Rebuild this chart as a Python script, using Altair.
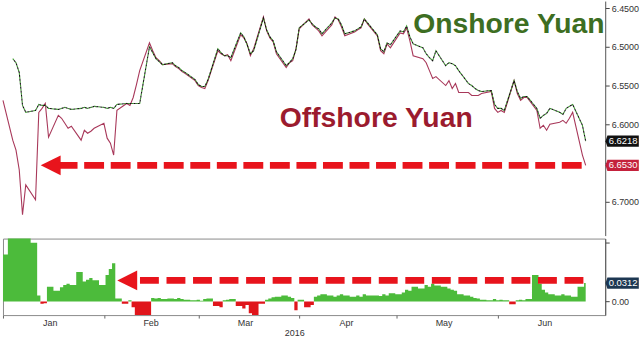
import altair as alt
import pandas as pd

# ---------------- data ----------------
dates = pd.bdate_range("2016-01-01", "2016-06-28")

offshore = [
    6.5692,
    6.6205, 6.6333, 6.6590, 6.7167, 6.6782,
    6.6974, 6.5846, 6.5795, 6.5731, 6.6167,
    6.5885, 6.5923, 6.5987, 6.6051, 6.6026,
    6.6205, 6.6077, 6.6115, 6.6090, 6.6051,
    6.5987, 6.6179, 6.6244, 6.6397, 6.5821,
    6.5731, 6.5756, 6.5654, 6.5487, 6.5308,
    6.4949, 6.5051, 6.5141, 6.5179, 6.5231,
    6.5218, 6.5256, 6.5282, 6.5321, 6.5346,
    6.5436, 6.5500, 6.5526, 6.5538, 6.5436,
    6.5051, 6.5090, 6.5115, 6.5103, 6.5179,
    6.4846, 6.4885, 6.4962, 6.5115, 6.5026,
    6.4615, 6.4795, 6.4885, 6.4936, 6.5090,
    6.5269, 6.5205, 6.5179, 6.5026, 6.4769,
    6.4641, 6.4718, 6.4756, 6.4795, 6.4859,
    6.4718, 6.4615, 6.4654, 6.4744, 6.4859,
    6.4808, 6.4782, 6.4756, 6.4641, 6.4705,
    6.4859, 6.5051, 6.5090, 6.4962, 6.5013,
    6.4821, 6.4833, 6.4756, 6.4923, 6.5115,
    6.5154, 6.5205, 6.5308, 6.5410, 6.5385,
    6.5500, 6.5436, 6.5538, 6.5474, 6.5590,
    6.5590, 6.5628, 6.5628, 6.5628, 6.5603,
    6.5577, 6.5795, 6.5846, 6.5821, 6.5846,
    6.5436, 6.5603, 6.5692, 6.5654, 6.5654,
    6.5821, 6.6051, 6.6013, 6.6077, 6.6000,
    6.5974, 6.5949, 6.5987, 6.5923, 6.5846,
    6.6397, 6.6530,
]

onshore = [
    None,
    6.5154, 6.5205, 6.5333, 6.5756, 6.5846,
    6.5821, 6.5744, 6.5756, 6.5756, 6.5795,
    6.5808, 6.5795, 6.5782, 6.5795, 6.5808,
    6.5795, 6.5782, 6.5795, 6.5782, 6.5769,
    6.5782, 6.5795, 6.5782, 6.5795, 6.5744,
    6.5731, 6.5731, 6.5731, 6.5731, 6.5731,
    6.5000, 6.5077, 6.5154, 6.5192, 6.5231,
    6.5205, 6.5244, 6.5269, 6.5308, 6.5333,
    6.5423, 6.5487, 6.5513, 6.5513, 6.5423,
    6.5026, 6.5077, 6.5115, 6.5115, 6.5141,
    6.4821, 6.4872, 6.4974, 6.5090, 6.5051,
    6.4628, 6.4782, 6.4872, 6.4923, 6.5064,
    6.5244, 6.5205, 6.5154, 6.5038, 6.4756,
    6.4654, 6.4705, 6.4744, 6.4769, 6.4833,
    6.4692, 6.4628, 6.4641, 6.4718, 6.4833,
    6.4795, 6.4769, 6.4744, 6.4641, 6.4692,
    6.4846, 6.5026, 6.5064, 6.4949, 6.4974,
    6.4795, 6.4808, 6.4731, 6.4872, 6.4962,
    6.5013, 6.5090, 6.5141, 6.5179, 6.5051,
    6.5244, 6.5205, 6.5218, 6.5244, 6.5308,
    6.5474, 6.5500, 6.5538, 6.5564, 6.5577,
    6.5564, 6.5744, 6.5795, 6.5795, 6.5821,
    6.5436, 6.5577, 6.5667, 6.5641, 6.5641,
    6.5795, 6.5923, 6.5885, 6.5859, 6.5795,
    6.5846, 6.5872, 6.5795, 6.5769, 6.5744,
    6.6013, 6.6218,
]

spread = [
    0.080,
    0.120, 0.130, 0.140, 0.140, 0.120,
    0.100, 0.010, -0.004, -0.003, 0.025,
    0.018, 0.024, 0.028, 0.030, 0.028,
    0.050, 0.034, 0.037, 0.040, 0.036,
    0.028, 0.045, 0.055, 0.065, 0.005,
    -0.004, 0.002, -0.010, -0.030, -0.040,
    -0.030, 0.006, 0.005, 0.006, 0.004,
    0.005, 0.004, 0.006, 0.004, 0.003,
    0.002, 0.003, 0.001, 0.004, 0.005,
    -0.008, -0.010, 0.002, 0.003, 0.004,
    -0.008, -0.012, -0.006, -0.020, -0.025,
    -0.004, 0.003, 0.005, 0.007, 0.008,
    0.010, 0.008, 0.006, -0.015, 0.003,
    -0.010, -0.006, 0.008, 0.010, 0.012,
    0.010, 0.008, 0.010, 0.012, 0.010,
    0.008, 0.010, 0.008, 0.012, 0.010,
    0.010, 0.009, 0.012, 0.010, 0.014,
    0.012, 0.015, 0.020, 0.018, 0.025,
    0.022, 0.028, 0.025, 0.030, 0.027,
    0.025, 0.022, 0.020, 0.018, 0.012,
    0.010, 0.008, 0.006, 0.005, 0.003,
    0.002, 0.004, 0.002, 0.003, 0.002,
    -0.005, 0.002, 0.003, 0.002, 0.004,
    0.045, 0.030, 0.020, 0.015, 0.012,
    0.010, 0.012, 0.010, 0.010, 0.008,
    0.025, 0.0312,
]

assert len(dates) == len(offshore) == len(onshore) == len(spread)

# last-value badges
top_badge_values = [6.6218, 6.6530]
top_badge_labels = ["6.6218", "6.6530"]
top_badge_colors = ["#111111", "#c4213c"]
bottom_badge_values = [0.0312]
bottom_badge_labels = ["0.0312"]

# annotations
label_texts = ["Onshore Yuan", "Offshore Yuan"]
label_dates = ["2016-05-06T00:00:00", "2016-03-26T00:00:00"]
label_values = [6.4821, 6.6038]
label_colors = ["#3d6e22", "#9b1b2e"]

top_arrow_level = [6.6530]
top_arrow_start = ["2016-01-17T19:00:00"]
top_arrow_end = ["2016-06-28T00:00:00"]
top_arrow_head = ["2016-01-15T15:30:00"]

bottom_arrow_level = [0.0358]
bottom_arrow_start = ["2016-02-12T02:00:00"]
bottom_arrow_end = ["2016-06-28T00:00:00"]
bottom_arrow_head = ["2016-02-08T04:00:00"]

month_ticks = [alt.DateTime(year=2016, month=m, date=1) for m in range(1, 7)]
top_ticks = [6.45, 6.475, 6.50, 6.525, 6.55, 6.575, 6.60, 6.625, 6.65, 6.675, 6.70, 6.725]
bottom_ticks = [-0.025, 0.0, 0.025, 0.05, 0.075, 0.10]

# ---------------- frames ----------------
df = pd.DataFrame({"date": dates, "offshore": offshore, "onshore": onshore, "spread": spread})
df_top_badges = pd.DataFrame({"v": top_badge_values, "t": top_badge_labels, "c": top_badge_colors})
df_bot_badges = pd.DataFrame({"v": bottom_badge_values, "t": bottom_badge_labels})
df_labels = pd.DataFrame({"date": label_dates, "v": label_values, "t": label_texts, "c": label_colors})
df_top_arrow = pd.DataFrame({"s": top_arrow_start, "e": top_arrow_end, "h": top_arrow_head, "v": top_arrow_level})
df_bot_arrow = pd.DataFrame({"s": bottom_arrow_start, "e": bottom_arrow_end, "h": bottom_arrow_head, "v": bottom_arrow_level})

W = 606
x_scale = alt.Scale(domain=[alt.DateTime(year=2016, month=1, date=1),
                            alt.DateTime(year=2016, month=7, date=4)])
y_top_scale = alt.Scale(domain=[6.441, 6.7436], reverse=True, nice=False, zero=False)
y_bot_scale = alt.Scale(domain=[-0.0233, 0.107], nice=False, zero=False)

RED = "#e8141c"
HEAD = "M1,-1L1,1L-1,0Z"
BADGE = "M-1.12,0L-1,-0.36L1,-0.36L1,0.36L-1,0.36Z"

top_axis = alt.Axis(orient="right", values=top_ticks, title=None, grid=False,
                    labelExpr="(round(datum.value*1000) % 50 == 0 && round(datum.value*1000) != 6650) ? format(datum.value, '.4f') : ''",
                    labelOverlap=False, labelFontSize=9, labelColor="#333333",
                    tickSize=4, tickColor="#444444", domainColor="#555555", labelPadding=2)

base_top = alt.Chart(df)
off_line = base_top.mark_line(color="#a8385a", strokeWidth=1.1).encode(
    x=alt.X("date:T", scale=x_scale, axis=None),
    y=alt.Y("offshore:Q", scale=y_top_scale, axis=top_axis),
)
on_green = base_top.mark_line(color="#3b9a2c", strokeWidth=1.1, strokeDash=[2, 2]).encode(
    x="date:T", y="onshore:Q")
on_black = base_top.mark_line(color="#111111", strokeWidth=1.1, strokeDash=[2, 2],
                              strokeDashOffset=2).encode(x="date:T", y="onshore:Q")

labels = alt.Chart(df_labels).mark_text(fontSize=28.5, fontWeight="bold", align="left",
                                        baseline="alphabetic").encode(
    x="date:T", y="v:Q", text="t:N", color=alt.Color("c:N", scale=None))

top_rule = alt.Chart(df_top_arrow).mark_rule(color=RED, strokeWidth=7, strokeDash=[20, 6.7]).encode(
    x="s:T", x2="e:T", y="v:Q")
top_head = alt.Chart(df_top_arrow).mark_point(shape=HEAD, size=400, filled=True, color=RED,
                                              opacity=1).encode(x="h:T", y="v:Q")

top_badge = alt.Chart(df_top_badges).mark_point(shape=BADGE, size=1000, filled=True, opacity=1).encode(
    x=alt.value(624), y="v:Q", color=alt.Color("c:N", scale=None))
top_badge_txt = alt.Chart(df_top_badges).mark_text(color="white", fontSize=9.5, align="center",
                                                   baseline="middle").encode(
    x=alt.value(624), y="v:Q", text="t:N")

top = alt.layer(off_line, on_green, on_black, top_rule, top_head, labels,
                top_badge, top_badge_txt).properties(width=W, height=236)

# bottom panel
bot_axis = alt.Axis(orient="right", values=bottom_ticks, title=None, grid=False,
                    labelExpr="(abs(datum.value) < 1e-9 || abs(datum.value-0.05) < 1e-9) ? format(datum.value, '.2f') : ''",
                    labelOverlap=False, labelFontSize=9, labelColor="#333333",
                    tickSize=4, tickColor="#444444", domainColor="#555555", labelPadding=2)
x_axis = alt.Axis(values=month_ticks, format="%b", labelOffset=47, labelFlush=False,
                  labelFontSize=9, labelColor="#333333", tickSize=3, tickColor="#666666",
                  domain=False, grid=False, labelPadding=0, title="2016", titleFontSize=9,
                  titleFontWeight="normal", titleColor="#333333", titleX=293, titleY=18,
                  titleBaseline="middle")

base_bot = alt.Chart(df).transform_calculate(
    pos="max(datum.spread, 0)", neg="min(datum.spread, 0)")
pos_area = base_bot.mark_area(color="#4cbb3b", clip=True, interpolate="step").encode(
    x=alt.X("date:T", scale=x_scale, axis=x_axis),
    y=alt.Y("pos:Q", scale=y_bot_scale, axis=bot_axis),
)
neg_area = base_bot.mark_area(color="#e0151b", clip=True, interpolate="step").encode(
    x="date:T", y="neg:Q")

bot_rule = alt.Chart(df_bot_arrow).mark_rule(color=RED, strokeWidth=7, strokeDash=[19, 7.7]).encode(
    x="s:T", x2="e:T", y="v:Q")
bot_head = alt.Chart(df_bot_arrow).mark_point(shape=HEAD, size=400, filled=True, color=RED,
                                              opacity=1).encode(x="h:T", y="v:Q")
bot_badge = alt.Chart(df_bot_badges).mark_point(shape=BADGE, size=1000, filled=True, opacity=1,
                                                color="#1d3752").encode(x=alt.value(624), y="v:Q")
bot_badge_txt = alt.Chart(df_bot_badges).mark_text(color="white", fontSize=9.5, align="center",
                                                   baseline="middle").encode(
    x=alt.value(624), y="v:Q", text="t:N")

bottom = alt.layer(pos_area, neg_area, bot_rule, bot_head, bot_badge, bot_badge_txt).properties(
    width=W, height=77, view=alt.ViewBackground(stroke="#8a8a8a", strokeWidth=1))

chart = alt.vconcat(top, bottom, spacing=2).properties(padding=0, background="white").configure(
    font="Liberation Sans").configure_view(stroke=None)

chart.save("out.html", embed_options={"renderer": "svg", "actions": False})
